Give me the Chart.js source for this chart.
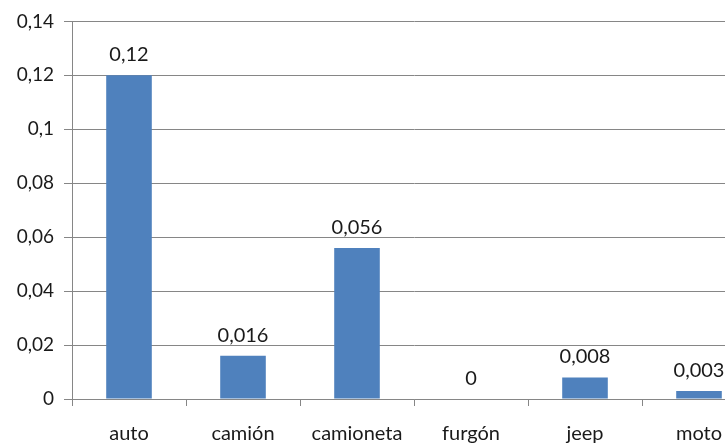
<!DOCTYPE html>
<html>
<head>
<meta charset="utf-8">
<script src="https://cdn.jsdelivr.net/npm/chart.js@4.4.0/dist/chart.umd.min.js"></script>
<style>
  html, body { margin: 0; padding: 0; background: #fff; overflow: hidden; }
  #wrap { width: 760px; height: 443px; }
</style>
</head>
<body>
<div id="wrap"><canvas id="chart" width="760" height="443"></canvas></div>
<script>
const categories = ['auto', 'camión', 'camioneta', 'furgón', 'jeep', 'moto'];
const values = [0.12, 0.016, 0.056, 0, 0.008, 0.003];
const yTicks = [0, 0.02, 0.04, 0.06, 0.08, 0.1, 0.12, 0.14];

const fmt = (v) => String(Math.round(v * 1000) / 1000).replace('.', ',');
const FONT = 'Lato, "Open Sans", sans-serif';

// value labels above each bar
const barLabels = {
  id: 'barLabels',
  afterDatasetsDraw: (chart) => {
    const { ctx } = chart;
    const meta = chart.getDatasetMeta(0);
    ctx.save();
    ctx.font = '20px ' + FONT;
    ctx.fillStyle = '#1a1a1a';
    ctx.textAlign = 'center';
    ctx.textBaseline = 'alphabetic';
    meta.data.forEach((bar, i) => {
      ctx.fillText(fmt(values[i]), bar.x, bar.y - 14);
    });
    ctx.restore();
  }
};

new Chart(document.getElementById('chart'), {
  type: 'bar',
  data: {
    labels: categories,
    datasets: [{
      data: values,
      backgroundColor: '#4F81BD',
      borderWidth: 0,
      categoryPercentage: 1,
      barPercentage: 0.4
    }]
  },
  options: {
    responsive: false,
    animation: false,
    layout: { padding: { top: 21, left: 0, right: 4, bottom: 0 } },
    plugins: {
      legend: { display: false },
      tooltip: { enabled: false }
    },
    scales: {
      x: {
        afterFit: (s) => { s.height = 44; },
        grid: {
          offset: true,
          drawOnChartArea: false,
          drawTicks: true,
          tickLength: 7,
          color: '#868686'
        },
        border: { color: '#868686' },
        ticks: {
          color: '#1a1a1a',
          padding: 16,
          font: { family: FONT, size: 20 }
        }
      },
      y: {
        min: 0,
        max: 0.14,
        afterFit: (s) => { s.width = 72; },
        afterBuildTicks: (s) => { s.ticks = yTicks.map(v => ({ value: v })); },
        grid: {
          color: '#868686',
          tickLength: 8
        },
        border: { color: '#868686' },
        ticks: {
          color: '#1a1a1a',
          padding: 10,
          font: { family: FONT, size: 19 },
          callback: (v) => fmt(v)
        }
      }
    }
  },
  plugins: [barLabels]
});
</script>
</body>
</html>
